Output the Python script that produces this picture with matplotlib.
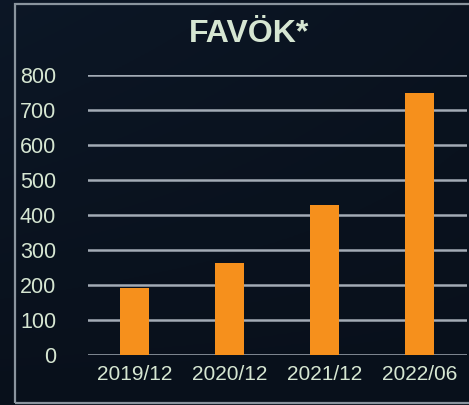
import matplotlib
matplotlib.use("Agg")
import matplotlib.pyplot as plt
import numpy as np
from matplotlib.patches import Rectangle

categories = ["2019/12", "2020/12", "2021/12", "2022/06"]
values = [191, 263, 429, 749]
yticks = [0, 100, 200, 300, 400, 500, 600, 700, 800]
title = "FAVÖK*"

plt.rcParams['font.family'] = ['Liberation Sans', 'DejaVu Sans']
txt = '#d6e6d2'

fig = plt.figure(figsize=(4.69, 4.05), dpi=100)
# background gradient
bg = fig.add_axes([0, 0, 1, 1])
gx = np.linspace(0, 1, 200)
gy = np.linspace(0, 1, 200)
X, Y = np.meshgrid(gx, gy)
base = np.array([0.04, 0.075, 0.125])
grad = base[None, None, :] * (0.85 + 0.35 * (1 - Y)[..., None] * (1 - 0.6 * X)[..., None])
bg.imshow(np.clip(grad, 0, 1), extent=[0, 1, 0, 1], aspect='auto', origin='upper')
bg.set_xlim(0, 1); bg.set_ylim(0, 1)
bg.axis('off')
bg.add_patch(Rectangle((15/469, 2.5/405), 1.2, 1 - 6/405, fill=False,
                       edgecolor='#8a949e', linewidth=1.6))

ax = fig.add_axes([88/469, 1 - 355/405, (467-88)/469, (355-75)/405])
ax.set_facecolor('none')
x = np.arange(len(categories))
ax.bar(x, values, width=0.31, color='#f6901c', zorder=3)
ax.set_xlim(-0.49, 3.5)
ax.set_ylim(0, 800)
ax.set_yticks(yticks)
ax.yaxis.grid(True, color='#a3abb5', linewidth=1.8, zorder=1)
ax.set_axisbelow(True)
for s in ax.spines.values():
    s.set_visible(False)
ax.tick_params(axis='both', length=0, colors=txt, labelsize=15)
ax.tick_params(axis='y', pad=23, labelsize=15.5)
ax.tick_params(axis='x', pad=7)
ax.set_xticks(x)
ax.set_xticklabels(categories)
for lab in ax.get_yticklabels():
    lab.set_horizontalalignment('right')
fig.text(249/469, 1 - 34/405, title, color=txt, fontsize=23, fontweight='bold',
         ha='center', va='center')
fig.savefig('out.png', dpi=100)
